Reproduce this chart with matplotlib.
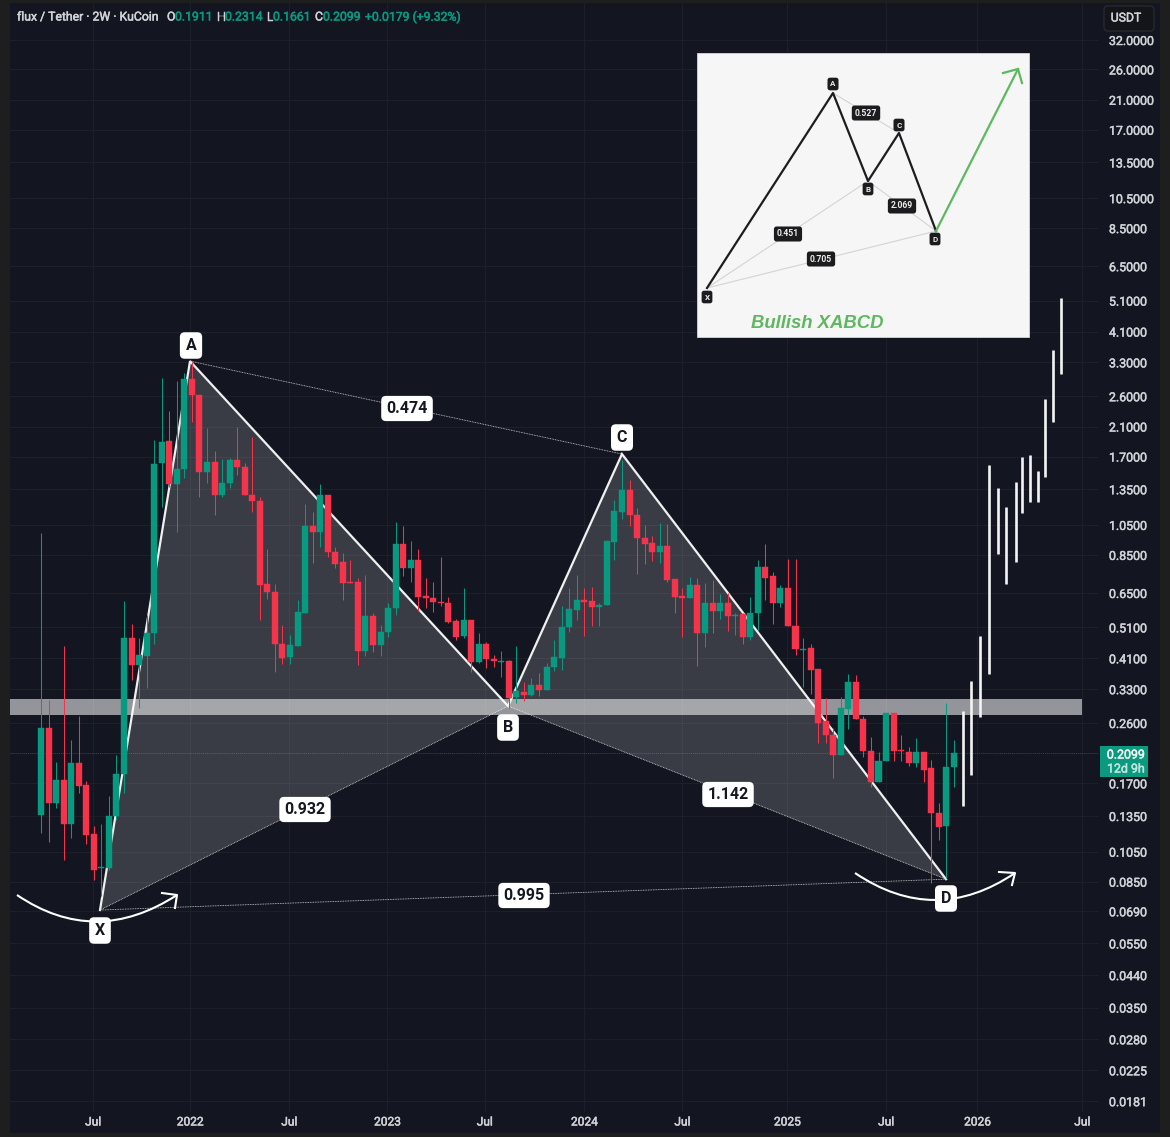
import numpy as np
import matplotlib
matplotlib.use("Agg")
import matplotlib.pyplot as plt
import matplotlib.patheffects as pe
from matplotlib.patches import Rectangle, FancyBboxPatch, PathPatch
from matplotlib.path import Path
from matplotlib.ticker import NullLocator, FixedLocator, FixedFormatter

opens = [.136,.2515,.148,.174,.128,.196,.168,.119,.0933,.0939,.135,.182,.474,.391,.417,.49,1.625,1.897,1.40,1.558,
 2.935,2.62,1.524,1.636,1.296,1.41,1.659,1.58,1.296,1.242,.692,.655,.453,.414,.447,.565,1.04,.999,1.30,.868,
 .81,.702,.70,.431,.554,.45,.494,.585,.92,.775,.82,.637,.628,.61,.606,.534,.481,.537,.399,.454,
 .408,.40,.402,.312,.323,.316,.339,.328,.385,.411,.511,.577,.619,.615,.589,.598,.931,1.15,1.343,1.125,
 .958,.923,.868,.903,.717,.637,.628,.687,.49,.606,.573,.606,.554,.561,.478,.565,.78,.733,.606,.673,
 .515,.435,.441,.38,.263,.239,.207,.287,.347,.268,.213,.171,.199,.279,.215,.212,.196,.212,.189,.138,
 .126,.1911]
highs = [.992,.306,.197,.447,.231,.273,.173,.126,.128,.155,.207,.615,.523,.474,.557,1.91,2.955,2.34,2.89,3.06,
 3.31,2.62,2.08,1.766,1.67,1.68,2.09,1.625,1.95,1.28,.886,.692,.519,.484,.619,1.22,1.15,1.40,1.30,.90,
 .862,.82,.723,.737,.565,.519,.606,1.072,1.04,.937,.886,.723,.702,.84,.632,.541,.673,.537,.49,.46,
 .42,.431,.405,.447,.347,.357,.37,.396,.467,.594,.673,.737,.673,.678,.606,.944,1.251,1.659,1.441,1.18,
 1.05,.97,1.065,1.058,.717,.673,.728,.723,.697,.712,.645,.65,.565,.565,.632,.82,.92,.753,.687,.826,
 .826,.474,.453,.38,.31,.2515,.313,.367,.364,.273,.236,.212,.279,.279,.239,.22,.234,.212,.201,.148,
 .30,.2314]
lows = [.120,.1124,.143,.099,.116,.159,.111,.086,.077,.092,.131,.159,.352,.289,.333,.453,1.19,1.37,.999,1.46,
 2.17,1.28,1.41,1.125,1.28,1.36,1.49,1.296,1.15,.537,.623,.372,.394,.394,.447,.565,.80,.90,.838,.775,
 .619,.696,.391,.417,.428,.417,.478,.557,.733,.702,.573,.585,.569,.594,.526,.467,.474,.372,.396,.383,
 .386,.36,.289,.30,.303,.314,.314,.328,.375,.378,.494,.537,.481,.515,.515,.598,.82,1.095,1.04,.745,
 .797,.814,.80,.702,.565,.478,.628,.388,.445,.49,.541,.497,.484,.453,.467,.501,.619,.523,.589,.515,
 .42,.335,.32,.226,.226,.177,.207,.25,.268,.204,.166,.171,.199,.199,.199,.192,.191,.171,.0845,.114,
 .087,.1661]
closes = [.2515,.148,.174,.128,.196,.167,.118,.0925,.0945,.135,.182,.474,.391,.42,.49,1.613,1.883,1.40,1.558,2.935,
 2.62,1.524,1.636,1.296,1.41,1.659,1.58,1.296,1.242,.687,.655,.453,.411,.45,.569,1.04,.999,1.30,.868,.797,
 .696,.696,.431,.554,.45,.494,.585,.92,.775,.82,.632,.628,.61,.606,.53,.478,.537,.399,.454,.408,
 .402,.402,.31,.326,.316,.339,.328,.385,.414,.511,.581,.619,.61,.589,.598,.937,1.158,1.343,1.125,.958,
 .92,.868,.903,.712,.632,.628,.687,.49,.606,.573,.606,.554,.557,.478,.565,.78,.723,.606,.673,.515,
 .438,.438,.378,.26,.239,.207,.289,.347,.268,.213,.171,.199,.279,.213,.213,.196,.212,.187,.138,.125,
 .191,.2099]

projected_x = [122.2,123.3,124.5,125.6,126.8,127.9,129.2,130.0,131.1,132.1,133.1,134.1,135.2]
projected_high = [.283,.35,.48,1.60,1.36,1.19,1.42,1.70,1.72,1.535,2.55,3.60,5.2]
projected_low = [.145,.18,.272,.367,.855,.692,.808,1.14,1.234,1.234,1.47,2.17,3.04]

pattern_names = ["X","A","B","C","D"]
pattern_x = [7.82,19.75,61.9,77.0,119.95]
pattern_price = [.0696,3.33,.293,1.73,.0865]
band_low, band_high = .275,.308
last_price = .2099

y_ticks = [32,26,21,17,13.5,10.5,8.5,6.5,5.1,4.1,3.3,2.6,2.1,1.7,1.35,1.05,.85,.65,.51,.41,.33,.26,.17,.135,.105,.085,.069,.055,.044,.035,.028,.0225,.0181]
x_ticks = [6.9,19.75,32.9,45.9,58.8,72.0,85.0,98.9,112.0,124.1,138.0]
x_labels = ["Jul","2022","Jul","2023","Jul","2024","Jul","2025","Jul","2026","Jul"]

W,H = 1170,1137
BG="#131620"; GRID="#1c2029"; GREEN="#089981"; RED="#f5334a"; TXT="#d0d2d6"
plt.rcParams['font.family']=['Roboto','DejaVu Sans']
fig=plt.figure(figsize=(W/100,H/100),dpi=100,facecolor="#1e1e1e")
# dark panel
fig.add_artist(Rectangle((10/W,1-1133/H),1150/W,1130/H,transform=fig.transFigure,fc=BG,ec="none",zorder=-1))
L,R,T,B=10,1098,3,1112
ax=fig.add_axes([L/W,1-B/H,(R-L)/W,(B-T)/H],facecolor="none")
ax.set_xlim(-4.11,140.09)
ax.set_yscale("log")
ax.set_ylim(.01677,41.53)
for s in ax.spines.values(): s.set_visible(False)
ax.yaxis.tick_right()
ax.yaxis.set_major_locator(FixedLocator(y_ticks))
ax.yaxis.set_major_formatter(FixedFormatter([f"{v:.4f}" for v in y_ticks]))
ax.yaxis.set_minor_locator(NullLocator())
ax.set_xticks(x_ticks); ax.set_xticklabels(x_labels)
ax.tick_params(axis="y",length=0,pad=7.9,labelsize=8.9,labelcolor=TXT)
ax.tick_params(axis="x",length=0,pad=2.5,labelsize=8.6,labelcolor=TXT)
def medium(color):
    return [pe.withStroke(linewidth=.35,foreground=color)]
for lab in ax.get_yticklabels()+ax.get_xticklabels():
    lab.set_path_effects(medium(TXT))
ax.grid(True,color=GRID,lw=.8); ax.set_axisbelow(True)
ax.axhline(last_price,color=GREEN,lw=.7,ls=(0,(1,1)),alpha=.5,zorder=1)

# harmonic pattern
ax.fill(pattern_x[:3],pattern_price[:3],fc="white",alpha=.165,ec="none",zorder=1.2)
ax.fill(pattern_x[2:],pattern_price[2:],fc="white",alpha=.165,ec="none",zorder=1.2)
ax.plot(pattern_x,pattern_price,color="#f0f0f0",lw=1.6,zorder=1.5,solid_joinstyle="miter")
for a,b in [(0,2),(1,3),(2,4),(0,4)]:
    ax.plot([pattern_x[a],pattern_x[b]],[pattern_price[a],pattern_price[b]],color="#d8d8d8",lw=.6,ls=(0,(1,1)),zorder=1.5)
ax.fill_between([ax.get_xlim()[0],138],band_low,band_high,color="white",alpha=.55,lw=0,zorder=1.7)

# candles
idx=np.arange(len(opens))
o,h,l,c=map(np.array,(opens,highs,lows,closes))
col=np.where(c>=o,GREEN,RED)
ax.vlines(idx,l,h,colors=col,lw=.75,zorder=2)
ax.bar(idx,np.maximum(o,c)-np.minimum(o,c),bottom=np.minimum(o,c),width=.8,color=col,edgecolor=col,lw=.3,zorder=2.1)
ax.vlines(projected_x,projected_low,projected_high,colors="#f4f4f4",lw=1.9,zorder=3)

# overlay in reference pixels for annotation furniture
ov=fig.add_axes([0,0,1,1],facecolor="none",zorder=5)
ov.set_xlim(0,W); ov.set_ylim(H,0); ov.axis("off")

def tag(x,y,s,size=11.5,pad=.32):
    ov.text(x,y,s,ha="center",va="center_baseline",fontsize=size,fontweight="bold",color="#15181f",
            bbox=dict(boxstyle=f"round,pad={pad},rounding_size=.3",fc="white",ec="none"),zorder=6)
for s,x,y in [("A",191,344),("C",622,436),("B",508,726),("D",946,897),("X",100,929)]:
    tag(x,y,s,size=11.5,pad=.36)
for s,x,y in [("0.474",407,407),("0.932",305,808),("1.142",728,793),("0.995",524,894)]:
    tag(x,y,s,size=11.5,pad=.32)

def arc(p0,c,p2,head):
    ov.add_patch(PathPatch(Path([p0,c,p2],[Path.MOVETO,Path.CURVE3,Path.CURVE3]),fc="none",ec="white",lw=1.5,zorder=4))
    ov.plot([head[0][0],p2[0],head[1][0]],[head[0][1],p2[1],head[1][1]],color="white",lw=1.5,zorder=4)
arc((17,895),(95,948),(177,895),((162,893),(175,908)))
arc((855,873),(935,927),(1015,873),((999,872),(1012,885)))

# header
hx=[(17,"flux / Tether · 2W · KuCoin",TXT),(167,"O",TXT),(175,"0.1911",GREEN),(217,"H",TXT),(225,"0.2314",GREEN),
    (267,"L",TXT),(273,"0.1661",GREEN),(315,"C",TXT),(323,"0.2099",GREEN),(365,"+0.0179 (+9.32%)",GREEN)]
for x,s,cc in hx:
    ov.text(x,17,s,color=cc,fontsize=8.8,va="center",ha="left",path_effects=medium(cc))

# USDT button
ov.add_patch(FancyBboxPatch((1104,6),50,25,boxstyle="round,pad=0,rounding_size=4",fc="#141518",ec="#2a2e39",lw=.8))
ov.text(1126,18,"USDT",color=TXT,fontsize=8.8,ha="center",va="center",path_effects=medium(TXT))
# price tag
ov.add_patch(Rectangle((1100,746),48,31,fc="#0b9a80",ec="none"))
ov.text(1126,755,f"{last_price:.4f}",color="#f2f5f4",fontsize=8.9,ha="center",va="center",path_effects=medium("#f2f5f4"))
ov.text(1126,769,"12d 9h",color="#bfe6dd",fontsize=8.9,ha="center",va="center",path_effects=medium("#bfe6dd"))

# inset schematic
inset_x=[707,833,868,899,936]; inset_y=[288,93,181,133,231]
inset_arrow_x=[936,1018]; inset_arrow_y=[231,69]
ov.add_patch(Rectangle((697,53),332,284,fc="#f6f6f7",ec="#d5d5d8",lw=.6,zorder=6))
for a,b in [(0,2),(1,3),(2,4),(0,4)]:
    ov.plot([inset_x[a],inset_x[b]],[inset_y[a],inset_y[b]],color="#d4d4d6",lw=.8,zorder=6.1)
ov.plot(inset_x,inset_y,color="#1d1d1f",lw=1.6,zorder=6.2)
ov.plot(inset_arrow_x,inset_arrow_y,color="#5fb760",lw=1.6,zorder=6.2)
ov.plot([1003,1018,1022],[73,69,83],color="#5fb760",lw=1.6,zorder=6.2)
def itag(x,y,s,size):
    ov.text(x,y,s,ha="center",va="center",fontsize=size,fontweight="bold",color="#ececec",zorder=6.4,
            bbox=dict(boxstyle="round,pad=.35,rounding_size=.3",fc="#1c1c1e",ec="none"))
for s,x,y in [("A",833,84),("C",899,125),("B",868,189),("D",935,239),("X",707,297)]: itag(x,y,s,5.8)
for s,x,y in [("0.527",866,113),("2.069",902,206),("0.451",788,234),("0.705",821,259)]: itag(x,y,s,6.2)
ov.text(817,324,"Bullish XABCD",color="#5fb760",fontsize=13.3,fontweight="bold",fontstyle="italic",
        family="Liberation Sans",ha="center",va="center",zorder=6.4)
fig.savefig("out.png",dpi=100,facecolor=fig.get_facecolor())
